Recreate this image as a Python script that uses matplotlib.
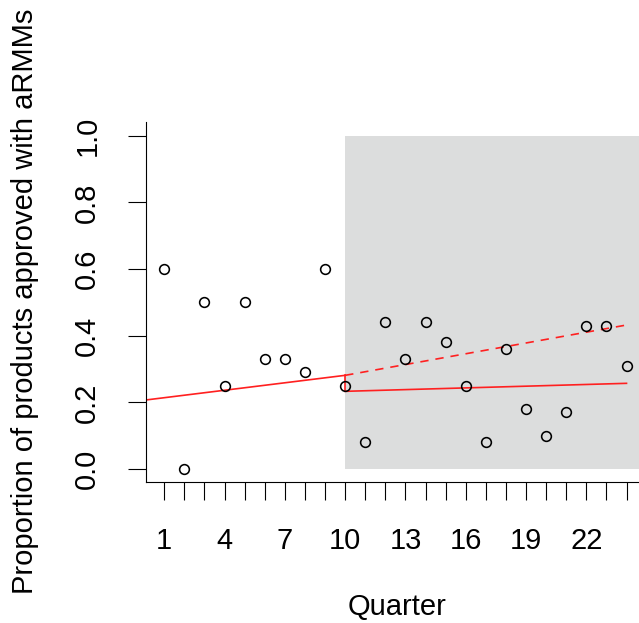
import matplotlib
matplotlib.use("Agg")
import matplotlib.pyplot as plt
from matplotlib.patches import Rectangle

plt.rcParams['font.family'] = ['Liberation Sans', 'DejaVu Sans']
plt.rcParams['lines.scale_dashes'] = False

# Data
quarters = list(range(1, 25))
proportions = [0.60, 0.00, 0.50, 0.25, 0.50, 0.33, 0.33, 0.29, 0.60, 0.25,
               0.08, 0.44, 0.33, 0.44, 0.38, 0.25, 0.08, 0.36, 0.18, 0.10,
               0.17, 0.43, 0.43, 0.31]
pre_fit_x = [0.08, 10]
pre_fit_y = [0.207, 0.281]
post_fit_x = [10, 24]
post_fit_y = [0.233, 0.257]
counterfactual_x = [10, 24]
counterfactual_y = [0.281, 0.432]
intervention_start = 10
xtick_labels = [1, 4, 7, 10, 13, 16, 19, 22]
ytick_vals = [0.0, 0.2, 0.4, 0.6, 0.8, 1.0]

fig = plt.figure(figsize=(6.39, 6.23), dpi=100)
# axes: x from 0.08 to 24.92, y from -0.04 to 1.04
ax = fig.add_axes([145.8 / 639, (623 - 482.3) / 623, (645 - 145.8) / 639, (482.3 - 122.4) / 623])
ax.set_xlim(0.08, 24.92)
ax.set_ylim(-0.04, 1.04)

ax.add_patch(Rectangle((intervention_start, 0), 30, 1.0, facecolor='#DCDDDD',
                       edgecolor='none', zorder=0))

red = '#FF2020'
ax.plot(pre_fit_x, pre_fit_y, color=red, lw=1.2, zorder=2)
ax.plot([pre_fit_x[1], post_fit_x[0]], [pre_fit_y[1], post_fit_y[0]], color=red, lw=1.2, zorder=2)
ax.plot(post_fit_x, post_fit_y, color=red, lw=1.2, zorder=2)
ax.plot(counterfactual_x, counterfactual_y, color=red, lw=1.2, dashes=(6, 5), zorder=2)

ax.plot(quarters, proportions, linestyle='none', marker='o', markersize=7.0,
        markerfacecolor='none', markeredgecolor='black', markeredgewidth=1.15, zorder=3)

for s in ['top', 'right']:
    ax.spines[s].set_visible(False)
for s in ['left', 'bottom']:
    ax.spines[s].set_linewidth(0.8)

ax.set_xticks(quarters)
ax.set_xticklabels([str(q) if q in xtick_labels else '' for q in quarters])
ax.set_yticks(ytick_vals)
ax.set_yticklabels([f"{v:.1f}" for v in ytick_vals], rotation=90, va='center')
ax.tick_params(axis='both', length=13, width=0.8, labelsize=21, color='black')
ax.tick_params(axis='x', pad=19)
ax.tick_params(axis='y', pad=19)

ax.set_xlabel('Quarter', fontsize=21)
ax.xaxis.set_label_coords((396.7 - 145.8) / (645 - 145.8), -(607 - 482.3) / (482.3 - 122.4))
ax.xaxis.label.set_va('center')
ax.set_ylabel('Proportion of products approved with aRMMs', fontsize=21)
ax.yaxis.set_label_coords((25 - 145.8) / (645 - 145.8), (482.3 - 301.5) / (482.3 - 122.4))
ax.yaxis.label.set_va('center')

fig.savefig('out.png', dpi=100)
